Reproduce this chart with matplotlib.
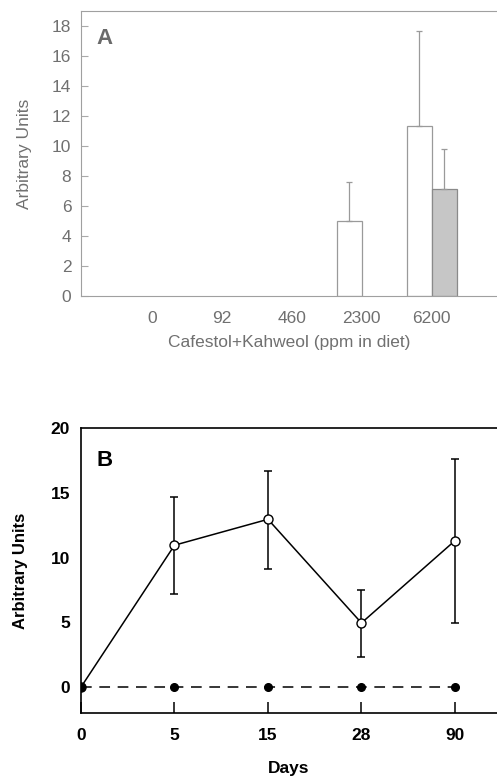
import numpy as np
import matplotlib.pyplot as plt

plt.rcParams['font.family'] = ['Liberation Sans', 'DejaVu Sans']

# Panel A: dose response
doses = ['0', '92', '460', '2300', '6200']
white_vals = [0, 0, 0, 5.0, 11.3]
white_err = [0, 0, 0, 2.6, 6.4]
gray_vals = [0, 0, 0, 0, 7.1]
gray_err = [0, 0, 0, 0, 2.7]

# Panel B: time course
days = ['0', '5', '15', '28', '90']
treated = [0, 10.95, 12.95, 4.95, 11.3]
treated_lo = [0, 7.2, 9.15, 2.3, 4.95]
treated_hi = [0, 14.7, 16.7, 7.5, 17.6]
control = [0, 0, 0, 0, 0]

fig = plt.figure(figsize=(4.97, 7.76), dpi=100)

# ---- Panel A ----
txtA = '#707070'
axA = fig.add_axes([0.163, 0.6186, 0.837, 0.3672])
x = np.arange(len(doses))
w = 0.355
show = [i for i in x if white_vals[i] > 0]
axA.bar(x[show] - w / 2, np.array(white_vals)[show], w, color='white',
        edgecolor='#9a9a9a', linewidth=0.9)
axA.errorbar(x[show] - w / 2, np.array(white_vals)[show],
             yerr=[np.zeros(len(show)), np.array(white_err)[show]],
             fmt='none', ecolor='#9a9a9a', elinewidth=0.9, capsize=2.5, capthick=0.9)
showg = [i for i in x if gray_vals[i] > 0]
axA.bar(x[showg] + w / 2, np.array(gray_vals)[showg], w, color='#c6c6c6',
        edgecolor='#8a8a8a', linewidth=0.9)
axA.errorbar(x[showg] + w / 2, np.array(gray_vals)[showg],
             yerr=[np.zeros(len(showg)), np.array(gray_err)[showg]],
             fmt='none', ecolor='#9a9a9a', elinewidth=0.9, capsize=2.5, capthick=0.9)
axA.set_xlim(-1.01, 4.93)
axA.set_ylim(0, 19)
axA.set_yticks(range(0, 19, 2))
axA.set_xticks(x)
axA.set_xticklabels(doses)
axA.tick_params(axis='y', direction='in', length=5, color='#aaaaaa',
                labelcolor=txtA, labelsize=12.5, pad=7)
axA.tick_params(axis='x', length=0, labelcolor=txtA, labelsize=12.5, pad=11)
for s in ['left', 'bottom', 'top']:
    axA.spines[s].set_color('#a0a0a0')
axA.spines['right'].set_visible(False)
axA.set_xlabel('Cafestol+Kahweol (ppm in diet)', color=txtA, fontsize=12.5, labelpad=6)
axA.set_ylabel('Arbitrary Units', color=txtA, fontsize=12.5, labelpad=14)
axA.text(0.038, 0.905, 'A', transform=axA.transAxes, fontsize=16, fontweight='bold',
         color='#6a6a6a', va='center')

# ---- Panel B ----
axB = fig.add_axes([0.163, 0.0812, 0.837, 0.3673])
xb = np.arange(len(days))
axB.plot(xb, control, color='black', linestyle=(0, (7, 5)), linewidth=1.1,
         marker='o', markersize=5.5, markerfacecolor='black', zorder=2)
lo = np.array(treated) - np.array(treated_lo)
hi = np.array(treated_hi) - np.array(treated)
axB.errorbar(xb[1:], np.array(treated)[1:], yerr=[lo[1:], hi[1:]], fmt='none',
             ecolor='black', elinewidth=1.1, capsize=3, capthick=1.1, zorder=2)
axB.plot(xb, treated, color='black', linewidth=1.1, marker='o', markersize=6.5,
         markerfacecolor='white', markeredgecolor='black', zorder=3)
axB.plot(xb[:1], control[:1], 'o', color='black', markersize=5.5, zorder=4)
axB.set_xlim(0, 4.45)
axB.set_ylim(-2, 20)
axB.set_yticks([0, 5, 10, 15, 20])
axB.set_xticks(xb)
axB.set_xticklabels(days)
axB.tick_params(axis='x', direction='in', length=8, width=1.1, labelsize=12.5, pad=11)
axB.tick_params(axis='y', length=0, labelsize=12.5, pad=8)
for lab in axB.get_xticklabels() + axB.get_yticklabels():
    lab.set_fontweight('bold')
axB.spines['right'].set_visible(False)
for s in ['left', 'bottom', 'top']:
    axB.spines[s].set_linewidth(1.2)
axB.set_xlabel('Days', fontsize=12.5, fontweight='bold', labelpad=13)
axB.set_ylabel('Arbitrary Units', fontsize=12, fontweight='bold', labelpad=16)
axB.text(0.038, 0.885, 'B', transform=axB.transAxes, fontsize=16, fontweight='bold',
         va='center')

fig.savefig('out.png', dpi=100)
